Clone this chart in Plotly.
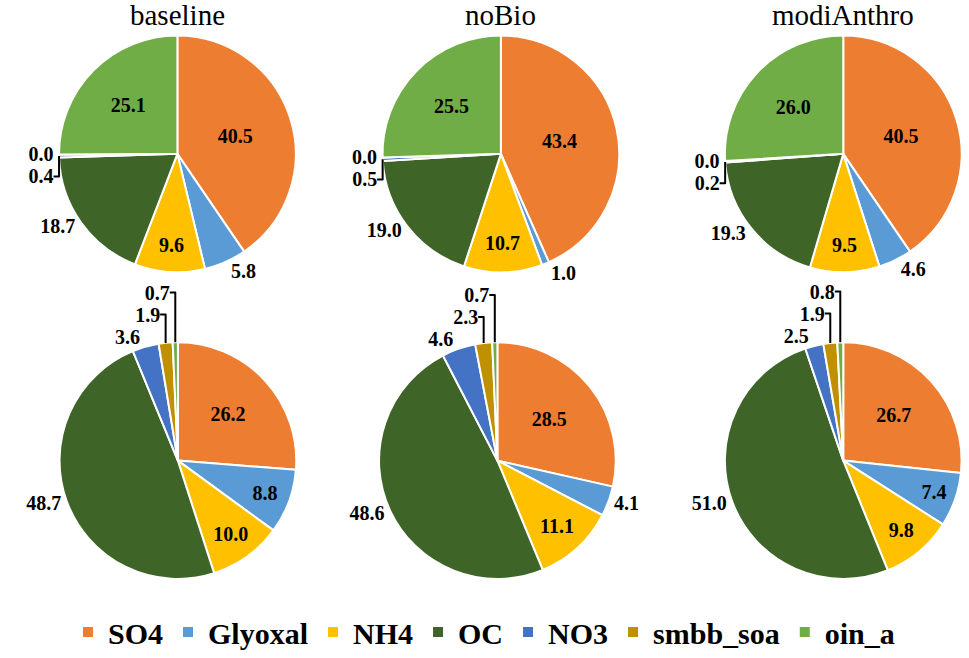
import plotly.graph_objects as go

# Категорії та кольори
species = ["SO4", "Glyoxal", "NH4", "OC", "NO3", "smbb_soa", "oin_a"]
colors = ["#ED7D31", "#5B9BD5", "#FFC000", "#3E6428", "#4472C4", "#BF9000", "#70AD47"]

scenarios = ["baseline", "noBio", "modiAnthro"]

# Верхній ряд
top_baseline = [40.5, 5.8, 9.6, 18.7, 0.4, 0.0, 25.1]
top_nobio = [43.4, 1.0, 10.7, 19.0, 0.5, 0.0, 25.5]
top_modi = [40.5, 4.6, 9.5, 19.3, 0.2, 0.0, 26.0]

# Нижній ряд
bot_baseline = [26.2, 8.8, 10.0, 48.7, 3.6, 1.9, 0.7]
bot_nobio = [28.5, 4.1, 11.1, 48.6, 4.6, 2.3, 0.7]
bot_modi = [26.7, 7.4, 9.8, 51.0, 2.5, 1.9, 0.8]

# Положення підписів (всередині / зовні)
top_pos = ["inside", "outside", "inside", "outside", "outside", "outside", "inside"]
bot_pos = ["inside", "inside", "inside", "outside", "outside", "outside", "outside"]
bot_pos_nobio = ["inside", "outside", "inside", "outside", "outside", "outside", "outside"]

W, H = 969, 658
R = 120
SERIF = "Liberation Serif, Times New Roman, serif"


def dom(cx, cy):
    return dict(x=[(cx - R) / W, min(1, (cx + R) / W)], y=[1 - (cy + R) / H, 1 - (cy - R) / H])


pies = [
    (top_baseline, top_pos, 178.5, 156),
    (top_nobio, top_pos, 504, 156),
    (top_modi, top_pos, 848.5, 156),
    (bot_baseline, bot_pos, 179, 467),
    (bot_nobio, bot_pos_nobio, 500.5, 467),
    (bot_modi, bot_pos, 848.5, 467),
]

fig = go.Figure()

for i, (vals, pos, cx, cy) in enumerate(pies):
    fig.add_trace(go.Pie(
        labels=species, values=vals, sort=False, direction="clockwise", rotation=0,
        marker=dict(colors=colors, line=dict(color="white", width=2)),
        texttemplate="%{value:.1f}", textposition=pos,
        insidetextorientation="horizontal",
        textfont=dict(family=SERIF, size=20, color="black", weight="bold"),
        domain=dom(cx, cy), showlegend=(i == 0), hoverinfo="label+value",
    ))

# Заголовки сценаріїв
for name, cx in zip(scenarios, [178.5, 504, 848]):
    fig.add_annotation(text=name, x=cx / W, y=1 - 15 / H, xref="paper", yref="paper",
                       showarrow=False, xanchor="center", yanchor="middle",
                       font=dict(family=SERIF, size=29, color="black"))

fig.update_layout(
    width=W, height=H,
    margin=dict(l=0, r=0, t=0, b=0),
    paper_bgcolor="white", plot_bgcolor="white",
    legend=dict(orientation="h", x=487 / W, xanchor="center", y=1 - 641 / H, yanchor="middle",
                font=dict(family=SERIF, size=30, color="black", weight="bold"),
                traceorder="normal"),
)

# прибираємо відступ сторінки, щоб рисунок не зсувався
fig.write_html("out.html", config={"displayModeBar": False},
               post_script="document.body.style.margin='0';")
